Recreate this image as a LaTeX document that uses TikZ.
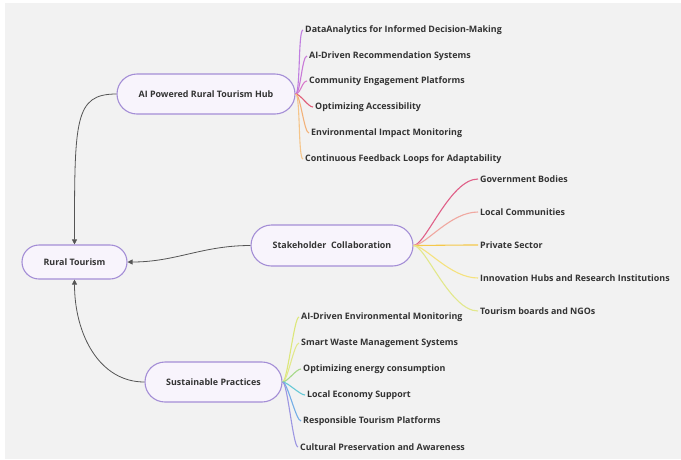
\documentclass[tikz,border=0pt]{standalone}
\usepackage{fontspec}
\setmainfont{Open Sans}
\usetikzlibrary{arrows.meta,shapes.misc}
\definecolor{panel}{HTML}{F2F2F2}
\definecolor{pillborder}{HTML}{A48ED6}
\definecolor{pillfill}{HTML}{F8F4FC}
\definecolor{txt}{HTML}{333333}
\definecolor{arrc}{HTML}{555555}
\definecolor{cPurpleA}{HTML}{C07EE0}
\definecolor{cPurpleB}{HTML}{C97AD8}
\definecolor{cMagenta}{HTML}{D77ACB}
\definecolor{cRed}{HTML}{E0607A}
\definecolor{cOrange}{HTML}{F2B27A}
\definecolor{cOrangeB}{HTML}{F5C58A}
\definecolor{cCrimson}{HTML}{E06088}
\definecolor{cSalmon}{HTML}{F0A8A0}
\definecolor{cAmber}{HTML}{F5C84A}
\definecolor{cYellow}{HTML}{F5E27E}
\definecolor{cLime}{HTML}{E2E88C}
\definecolor{cLimeB}{HTML}{DCE77A}
\definecolor{cGreen}{HTML}{A6D98A}
\definecolor{cTeal}{HTML}{66C9D6}
\definecolor{cBlue}{HTML}{74AEE6}
\definecolor{cPeri}{HTML}{9C96E2}
\begin{document}
\begin{tikzpicture}[x=1pt,y=-1pt,
  pill/.style={rounded rectangle, draw=pillborder, fill=pillfill, line width=1.1pt,
    text=txt, font=\bfseries\fontsize{8.9}{10}\selectfont, inner sep=0pt},
  item/.style={anchor=west, inner xsep=2pt, inner ysep=1pt, text=txt,
    font=\bfseries\fontsize{8.9}{10}\selectfont},
  arr/.style={draw=arrc, line width=0.8pt, -{Triangle[length=5pt,width=5pt]}},
  br/.style={line width=1.1pt}
]
\useasboundingbox (0,0) rectangle (681,459);
\fill[white] (0,0) rectangle (681,459);
\fill[panel] (5,3) rectangle (681,459);

% main nodes
\node[pill, minimum width=178pt, minimum height=40pt] (hub) at (206,94) {AI Powered Rural Tourism Hub};
\node[pill, minimum width=162pt, minimum height=41pt] (stake) at (332,245.5) {Stakeholder\ \ Collaboration};
\node[pill, minimum width=105pt, minimum height=34pt] (rural) at (74.5,262) {Rural Tourism};
\node[pill, minimum width=137pt, minimum height=40pt] (sust) at (213.5,382) {Sustainable Practices};

% AI hub items
\node[item] (h1) at (303,30) {DataAnalytics for Informed Decision-Making};
\node[item] (h2) at (307,56) {AI-Driven Recommendation Systems};
\node[item] (h3) at (307,81) {Community Engagement Platforms};
\node[item] (h4) at (313,107) {Optimizing Accessibility};
\node[item] (h5) at (309,133) {Environmental Impact Monitoring};
\node[item] (h6) at (303,159) {Continuous Feedback Loops for Adaptability};

% Stakeholder items
\node[item] (s1) at (478,179) {Government Bodies};
\node[item] (s2) at (478,212) {Local Communities};
\node[item] (s3) at (478,245) {Private Sector};
\node[item] (s4) at (478,278) {Innovation Hubs and Research Institutions};
\node[item] (s5) at (478,311) {Tourism boards and NGOs};

% Sustainable items
\node[item] (p1) at (299,317) {AI-Driven Environmental Monitoring};
\node[item] (p2) at (299,343) {Smart Waste Management Systems};
\node[item] (p3) at (301,369) {Optimizing energy consumption};
\node[item] (p4) at (305,395) {Local Economy Support};
\node[item] (p5) at (301,421) {Responsible Tourism Platforms};
\node[item] (p6) at (298,447) {Cultural Preservation and Awareness};

% hub branches
\foreach \t/\c in {h1/cPurpleA,h2/cPurpleB,h3/cMagenta,h4/cRed,h5/cOrange,h6/cOrangeB}
  \draw[br,\c] (hub.east) to[out=0,in=180,distance=5pt] (\t.west);
% stakeholder branches
\foreach \t/\c in {s1/cCrimson,s2/cSalmon,s3/cAmber,s4/cYellow,s5/cLime}
  \draw[br,\c] (stake.east) to[out=0,in=180,out distance=12pt,in distance=28pt] (\t.west);
% sustainable branches
\foreach \t/\c in {p1/cLimeB,p2/cLime,p3/cGreen,p4/cTeal,p5/cBlue,p6/cPeri}
  \draw[br,\c] (sust.east) to[out=0,in=180,distance=5pt] (\t.west);

% main arrows
\draw[arr] (hub.west) .. controls +(-42,0) and +(0,-125) .. (rural.north);
\draw[arr] (stake.west) to[out=180,in=0] (rural.east);
\draw[arr] (sust.west) .. controls +(-45,0) and +(0,55) .. (rural.south);
\end{tikzpicture}
\end{document}
